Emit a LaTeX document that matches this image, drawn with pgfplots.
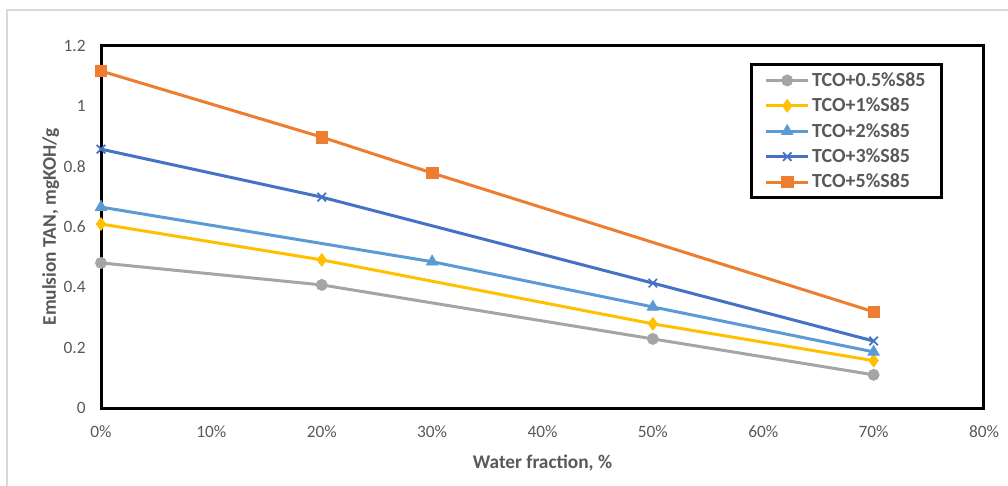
\documentclass[border=0pt]{standalone}
\usepackage{pgfplots}
\pgfplotsset{compat=1.18}
\usepackage{fontspec}
\setmainfont{Carlito}
\definecolor{tickgray}{HTML}{595959}
\definecolor{cgray}{HTML}{A5A5A5}
\definecolor{cyellow}{HTML}{FFC000}
\definecolor{clblue}{HTML}{5B9BD5}
\definecolor{cdblue}{HTML}{4472C4}
\definecolor{corange}{HTML}{ED7D31}
\begin{document}
\begin{tikzpicture}[x=0.75pt,y=0.75pt]
\path[use as bounding box] (0,0) rectangle (1008,486);
\draw[color=black!15, line width=1.2pt] (1010,476) -- (7,476) -- (7,-2);
\begin{axis}[
  at={(75.75pt,58.5pt)}, anchor=south west,
  scale only axis, width=662.25pt, height=271.5pt,
  xmin=0, xmax=80, ymin=0, ymax=1.2,
  xtick={0,10,...,80}, ytick={0,0.2,...,1.2},
  xticklabel={\pgfmathprintnumber{\tick}\%},
  /pgf/number format/assume math mode=true,
  major tick length=0pt,
  axis line style={line width=2.25pt, black},
  tick label style={font=\fontsize{13}{15}\selectfont, text=tickgray},
  xticklabel style={yshift=-10pt},
  yticklabel style={xshift=-8pt},
  xlabel={\textbf{Water fraction, \%}},
  ylabel={\textbf{Emulsion TAN, mgKOH/g}},
  label style={font=\fontsize{14.5}{16}\selectfont, text=tickgray},
  xlabel style={yshift=-6pt},
  ylabel style={at={(axis description cs:-0.057,0.5)}, anchor=center},
  legend style={at={(0.735,0.953)}, anchor=north west, draw=black, line width=2.25pt,
    font=\fontsize{15}{17}\selectfont\bfseries, text=tickgray,
    inner xsep=10pt, inner ysep=4pt, row sep=3.2pt,
    legend cell align=left},
  legend image code/.code={
    \draw[mark repeat=2,mark phase=2,#1] plot coordinates {(0cm,0cm) (0.55cm,0cm) (1.1cm,0cm)};},
  every axis plot/.append style={line width=2.25pt},
  clip=false,
]
\addplot[cgray, mark=*, mark size=4.2pt, mark options={solid,line width=0.5pt}] coordinates {(0,0.481) (20,0.408) (50,0.229) (70,0.110)};
\addlegendentry{TCO+0.5\%S85}
\addplot[cyellow, mark=diamond*, mark size=4.8pt, mark options={solid,line width=0.5pt}] coordinates {(0,0.610) (20,0.491) (50,0.279) (70,0.157)};
\addlegendentry{TCO+1\%S85}
\addplot[clblue, mark=triangle*, mark size=5pt, mark options={solid,line width=0.5pt}] coordinates {(0,0.666) (30,0.485) (50,0.335) (70,0.186)};
\addlegendentry{TCO+2\%S85}
\addplot[cdblue, mark=x, mark size=4.5pt, mark options={solid,line width=1.3pt}] coordinates {(0,0.858) (20,0.699) (50,0.414) (70,0.222)};
\addlegendentry{TCO+3\%S85}
\addplot[corange, mark=square*, mark size=4.3pt, mark options={solid,line width=0.5pt}] coordinates {(0,1.117) (20,0.898) (30,0.779) (70,0.319)};
\addlegendentry{TCO+5\%S85}
\end{axis}
\end{tikzpicture}
\end{document}
